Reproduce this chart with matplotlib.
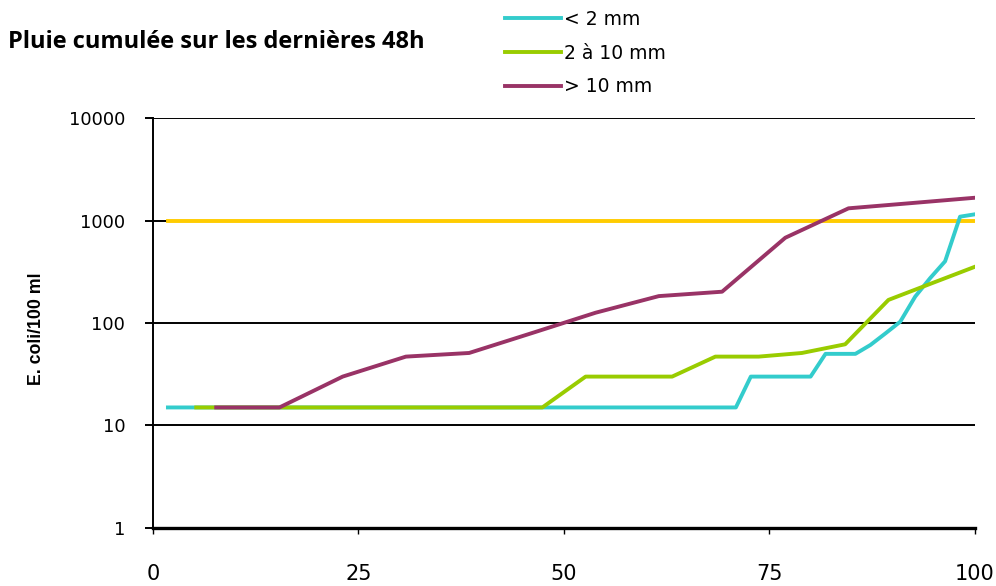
#!/usr/bin/env python3
"""E. coli concentration vs. percentile, by cumulated rain over last 48h."""
import numpy as np
import matplotlib
matplotlib.use('Agg')
import matplotlib.pyplot as plt
from matplotlib.ticker import FixedLocator, NullLocator

plt.rcParams.update({
    'font.family': ['DejaVu Sans'],
    'font.size': 13,
})

# --- data (x = percentile, y = E. coli/100 ml) ---
n_low, n_mid, n_high = 55, 19, 13

x_low = np.arange(1, n_low + 1) / n_low * 100
y_low = [15] * 39 + [30] * 5 + [50] * 3 + [61, 79, 103, 181, 274, 400, 1090, 1150]

x_mid = np.arange(1, n_mid + 1) / n_mid * 100
y_mid = [15] * 9 + [30, 30, 30, 47, 47, 51, 62, 168, 244, 354]

x_high = np.arange(1, n_high + 1) / n_high * 100
y_high = [15, 15, 30, 47, 51, 80, 126, 183, 202, 679, 1315, 1480, 1668]

threshold = 1000

labels = ['< 2 mm', '2 à 10 mm', '> 10 mm']
colors = ['#33CCCC', '#99CC00', '#993366']
thr_color = '#FFCC00'

fig = plt.figure(figsize=(9.96, 5.86), dpi=100)
ax = fig.add_axes([0.1536, 0.099, 0.8253, 0.6996])

ax.set_yscale('log')
ax.set_ylim(1, 10000)
ax.set_xlim(0, 100)

for yv in [10, 100, 1000, 10000]:
    ax.axhline(yv, color='black', linewidth=1.4, zorder=1)

ax.plot(x_low, [threshold] * len(x_low), color=thr_color, linewidth=2.8, zorder=3)
lines = []
for xs, ys, c, lab in zip([x_low, x_mid, x_high], [y_low, y_mid, y_high], colors, labels):
    ln, = ax.plot(xs, ys, color=c, linewidth=2.8, label=lab, zorder=4)
    lines.append(ln)

for side in ['top', 'right']:
    ax.spines[side].set_visible(False)
ax.spines['left'].set_linewidth(1.4)
ax.spines['bottom'].set_linewidth(2.4)

ax.yaxis.set_major_locator(FixedLocator([1, 10, 100, 1000, 10000]))
ax.yaxis.set_minor_locator(NullLocator())
ax.set_yticklabels(['1', '10', '100', '1000', '10000'])
ax.set_xticks([0, 25, 50, 75, 100])
ax.set_xticklabels(['0', '25', '50', '75', '100'])
ax.tick_params(axis='y', direction='out', length=6, width=1.4, pad=14, labelsize=13)
ax.tick_params(axis='x', direction='out', length=4, width=1.0, pad=22, labelsize=15)

ax.set_ylabel('E. coli/100 ml', fontsize=12.8, fontweight='bold',
              family=['Liberation Sans', 'DejaVu Sans'])
ax.yaxis.set_label_coords(-0.131, 0.487)

fig.text(0.008, 1 - 48 / 586, 'Pluie cumulée sur les dernières 48h', fontsize=17,
         fontweight='bold', ha='left', va='baseline',
         family=['Open Sans', 'DejaVu Sans'])

fig.legend(handles=lines, labels=labels, loc='upper left',
           bbox_to_anchor=(505 / 996, 1 - 10 / 586), frameon=False, fontsize=13.5,
           handlelength=3.0, handletextpad=0.15, labelspacing=0.78,
           borderaxespad=0, borderpad=0)

fig.savefig('out.png', dpi=100)
